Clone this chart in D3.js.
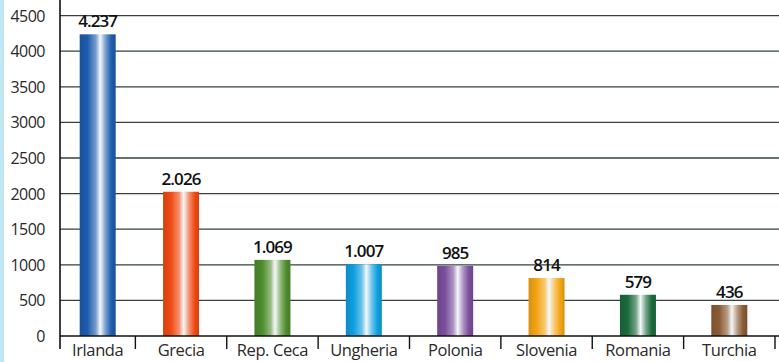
<!DOCTYPE html>
<html><head><meta charset="utf-8">
<script src="https://cdn.jsdelivr.net/npm/d3@7"></script>
<style>body{margin:0;background:#fff}svg{display:block}</style>
</head><body>
<script>
const categories = ["Irlanda","Grecia","Rep. Ceca","Ungheria","Polonia","Slovenia","Romania","Turchia"];
const values = [4237, 2026, 1069, 1007, 985, 814, 579, 436];
const valueLabels = ["4.237","2.026","1.069","1.007","985","814","579","436"];
const yTicks = [0,500,1000,1500,2000,2500,3000,3500,4000,4500];
const barColors = ["#1e5cae","#ef4a12","#4e8c2c","#0d9fe0","#7b4e9c","#f3a412","#1b6b3c","#8a5c34"];

const W = 779, H = 362;
const svg = d3.select("body").append("svg").attr("width", W).attr("height", H);

// scan edge strip
svg.append("rect").attr("x",0).attr("y",0).attr("width",4).attr("height",H).attr("fill","#bfe6f2");

const y = d3.scaleLinear().domain([0,4500]).range([336,15.6]);
const x = d3.scaleBand().domain(categories).range([44,775]).paddingInner(0).paddingOuter(0);
const axisX = 60;
const center = (d,i) => i===0 ? (axisX + x(d)+x.bandwidth())/2 : x(d)+x.bandwidth()/2;

const defs = svg.append("defs");
barColors.forEach((c,i)=>{
  const g = defs.append("linearGradient").attr("id","g"+i).attr("x1","0%").attr("x2","100%").attr("y1","0%").attr("y2","0%");
  const dark = d3.color(c).darker(0.35).formatHex();
  const mid = d3.interpolateRgb(c,"#ffffff")(0.4);
  g.append("stop").attr("offset","0%").attr("stop-color",dark);
  g.append("stop").attr("offset","22%").attr("stop-color",c);
  g.append("stop").attr("offset","45%").attr("stop-color",mid);
  g.append("stop").attr("offset","57%").attr("stop-color","#f4f8fa");
  g.append("stop").attr("offset","72%").attr("stop-color",mid);
  g.append("stop").attr("offset","88%").attr("stop-color",c);
  g.append("stop").attr("offset","100%").attr("stop-color",dark);
});

// gridlines
svg.append("g").selectAll("line").data(yTicks.filter(d=>d>0)).join("line")
  .attr("x1",axisX).attr("x2",W).attr("y1",d=>y(d)).attr("y2",d=>y(d))
  .attr("stroke","#34423a").attr("stroke-width",1.3);

// y tick labels
svg.append("g").selectAll("text").data(yTicks).join("text")
  .attr("x",45).attr("y",d=>y(d)+6).attr("text-anchor","end")
  .attr("font-family","'Open Sans', sans-serif").attr("font-size",16)
  .attr("fill","#2a2a2a").attr("letter-spacing","-0.5")
  .text(d=>d);

// bars
const bw = 36;
svg.append("g").selectAll("rect").data(categories).join("rect")
  .attr("x",(d,i)=>center(d,i)-bw/2)
  .attr("y",(d,i)=>y(values[i]))
  .attr("width",bw)
  .attr("height",(d,i)=>y(0)-y(values[i]))
  .attr("fill",(d,i)=>"url(#g"+i+")");

// value labels
svg.append("g").selectAll("text").data(categories).join("text")
  .attr("x",(d,i)=>center(d,i))
  .attr("y",(d,i)=>y(values[i])-7)
  .attr("text-anchor","middle")
  .attr("font-family","'Open Sans', sans-serif").attr("font-size",17).attr("font-weight",600)
  .attr("fill","#111").attr("letter-spacing","-0.9")
  .text((d,i)=>valueLabels[i]);

// axes
svg.append("line").attr("x1",axisX).attr("x2",axisX).attr("y1",0).attr("y2",349)
  .attr("stroke","#111").attr("stroke-width",1.6);
svg.append("line").attr("x1",axisX).attr("x2",W).attr("y1",y(0)).attr("y2",y(0))
  .attr("stroke","#111").attr("stroke-width",1.6);

// category separators
svg.append("g").selectAll("line").data(categories).join("line")
  .attr("x1",d=>x(d)+x.bandwidth()).attr("x2",d=>x(d)+x.bandwidth())
  .attr("y1",y(0)).attr("y2",349)
  .attr("stroke","#111").attr("stroke-width",1.4);

// category labels
svg.append("g").selectAll("text").data(categories).join("text")
  .attr("x",(d,i)=>center(d,i))
  .attr("y",356)
  .attr("text-anchor","middle")
  .attr("font-family","'Open Sans', sans-serif").attr("font-size",16.5)
  .attr("fill","#2a2a2a").attr("letter-spacing","-0.4")
  .text(d=>d);
</script>
</body></html>
